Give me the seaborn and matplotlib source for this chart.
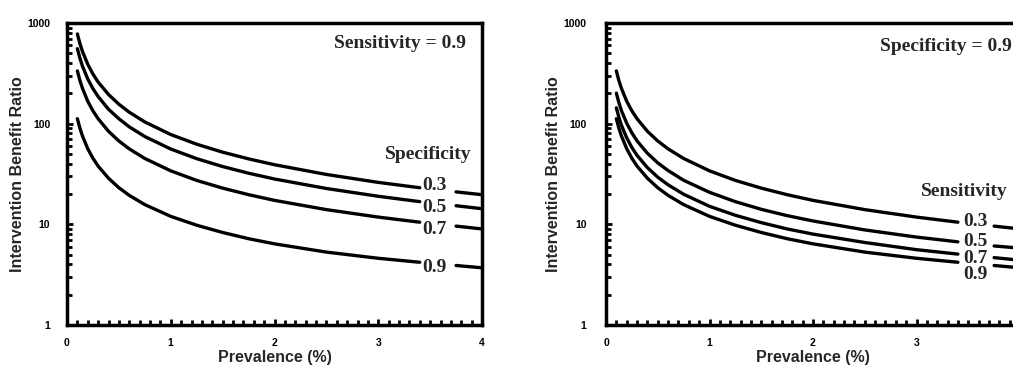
import numpy as np
import pandas as pd
import matplotlib.pyplot as plt
import seaborn as sns
from matplotlib.ticker import MultipleLocator, LogLocator, NullFormatter, FixedLocator, FixedFormatter

# ---------------------------
# Datos
# ---------------------------
prevalence = [0.1, 0.125, 0.15, 0.2, 0.25, 0.3, 0.4, 0.5, 0.6, 0.75, 1.0,
              1.25, 1.5, 1.75, 2.0, 2.5, 3.0, 3.4, 3.75, 4.0]

# Panel izquierdo: sensibilidad = 0.9, curvas por especificidad
spec_levels = ['0.3', '0.5', '0.7', '0.9']
spec_03 = [778, 622, 519, 389, 311, 259, 195, 156, 130, 104, 78, 62.5, 52.1, 44.7, 39.1, 31.3, 26.1, 23.1, 21.0, 19.7]
spec_05 = [556, 445, 371, 278, 223, 186, 139, 112, 93, 74.5, 56, 44.9, 37.5, 32.2, 28.2, 22.7, 19.0, 16.8, 15.3, 14.3]
spec_07 = [334, 267, 223, 167, 134, 112, 84, 67.3, 56.2, 45.1, 34, 27.3, 22.9, 19.7, 17.3, 14.0, 11.8, 10.5, 9.6, 9.0]
spec_09 = [112, 89.8, 75, 56.4, 45.3, 37.9, 28.7, 23.1, 19.4, 15.7, 12.0, 9.8, 8.3, 7.2, 6.4, 5.3, 4.6, 4.2, 3.9, 3.7]

# Panel derecho: especificidad = 0.9, curvas por sensibilidad
sens_levels = ['0.3', '0.5', '0.7', '0.9']
sens_03 = [334, 267, 223, 167, 134, 112, 84, 67.3, 56.2, 45.1, 34, 27.3, 22.9, 19.7, 17.3, 14.0, 11.8, 10.5, 9.6, 9.0]
sens_05 = [201, 161, 134, 101, 81, 67.4, 50.8, 40.8, 34.2, 27.4, 20.8, 16.8, 14.1, 12.2, 10.8, 8.8, 7.47, 6.7, 6.1, 5.8]
sens_07 = [143.7, 115.1, 96.1, 72.3, 58, 48.4, 36.6, 29.4, 24.7, 19.9, 15.1, 12.3, 10.4, 9.0, 8.0, 6.6, 5.6, 5.06, 4.67, 4.4]
sens_09 = [112, 89.8, 75, 56.4, 45.3, 37.9, 28.7, 23.1, 19.4, 15.7, 12.0, 9.8, 8.3, 7.2, 6.4, 5.3, 4.6, 4.2, 3.9, 3.7]

x_ticks = [0, 1, 2, 3, 4]
left_x_labels = ['0', '1', '2', '3', '4']
right_x_labels = ['0', '1', '2', '3', '']   # el 4 queda fuera de la imagen
y_ticks = [1, 10, 100, 1000]
y_labels = ['1', '10', '100', '1000']

# posiciones de las etiquetas (texto)
left_label_y = [24.5, 14.6, 8.8, 3.7]
right_label_y = [10.6, 6.7, 4.6, 3.14]
gap_start = 3.4


def long_frame(curves, levels):
    rows = []
    for lev, vals in zip(levels, curves):
        for x, y in zip(prevalence, vals):
            seg = 0 if x <= gap_start else 1
            rows.append({'prev': x, 'ibr': y, 'unit': f'{lev}-{seg}'})
    return pd.DataFrame(rows)


sns.set_style('ticks')
plt.rcParams['font.family'] = ['Liberation Sans', 'DejaVu Sans']
plt.rcParams['font.weight'] = 'bold'
plt.rcParams['axes.labelweight'] = 'bold'

fig = plt.figure(figsize=(10.13, 3.69), dpi=100)
W, H = 1013, 369
ax1 = fig.add_axes([67 / W, (H - 325) / H, (482 - 67) / W, (325 - 23) / H])
ax2 = fig.add_axes([606 / W, (H - 325) / H, (1020 - 606) / W, (325 - 23) / H])

panels = [
    (ax1, long_frame([spec_03, spec_05, spec_07, spec_09], spec_levels), left_x_labels,
     'Sensitivity = 0.9', (3.85, 630), 'Specificity', (3.48, 49),
     spec_levels, left_label_y, 3.54, 12),
    (ax2, long_frame([sens_03, sens_05, sens_07, sens_09], sens_levels), right_x_labels,
     'Specificity = 0.9', (3.92, 580), 'Sensitivity', (3.46, 21),
     sens_levels, right_label_y, 3.57, 14),
]

serif = ['Liberation Serif', 'DejaVu Serif']

for ax, df, xlabs, title, tpos, head, hpos, levels, ly, lx, ypad in panels:
    sns.lineplot(data=df, x='prev', y='ibr', units='unit', estimator=None,
                 color='black', lw=2.4, ax=ax, legend=False)
    ax.set_yscale('log')
    ax.set_xlim(0, 4)
    ax.set_ylim(1, 1000)

    ax.xaxis.set_major_locator(FixedLocator(x_ticks))
    ax.xaxis.set_major_formatter(FixedFormatter(xlabs))
    ax.xaxis.set_minor_locator(MultipleLocator(0.1))
    ax.yaxis.set_major_locator(FixedLocator(y_ticks))
    ax.yaxis.set_major_formatter(FixedFormatter(y_labels))
    ax.yaxis.set_minor_locator(LogLocator(base=10, subs=np.arange(2, 10)))
    ax.yaxis.set_minor_formatter(NullFormatter())

    ax.tick_params(which='major', direction='in', length=4, width=2, labelsize=7.5, colors='black')
    ax.tick_params(which='minor', direction='in', length=3.5, width=2, colors='black')
    ax.tick_params(axis='x', which='major', pad=9)
    ax.tick_params(axis='y', which='major', pad=ypad)

    for sp in ax.spines.values():
        sp.set_linewidth(2.5)
        sp.set_color('black')
        sp.set_visible(True)

    ax.set_xlabel('Prevalence (%)', fontsize=11.5, labelpad=2)
    ax.set_ylabel('Intervention Benefit Ratio', fontsize=11.5, labelpad=2)

    ax.text(tpos[0], tpos[1], title, ha='right', va='center', fontsize=14,
            family=serif, fontweight='bold')
    ax.text(hpos[0], hpos[1], head, ha='center', va='center', fontsize=14,
            family=serif, fontweight='bold')
    for lev, y in zip(levels, ly):
        ax.text(lx, y, lev, ha='center', va='center', fontsize=14,
                family=serif, fontweight='bold')

fig.savefig('out.png', dpi=100)
